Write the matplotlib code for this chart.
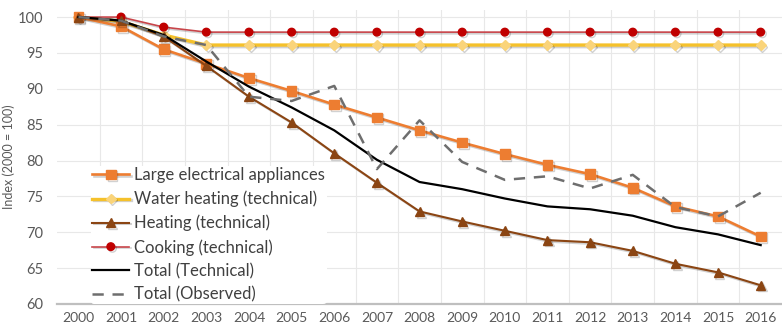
import matplotlib
matplotlib.use("Agg")
import matplotlib.pyplot as plt
import matplotlib.patheffects as pe

plt.rcParams["font.family"] = ["Lato", "DejaVu Sans"]

# Data (index, 2000 = 100)
years = list(range(2000, 2017))
large_appliances = [100, 98.7, 95.5, 93.5, 91.5, 89.7, 87.8, 86.0, 84.2, 82.5,
                    80.9, 79.4, 78.1, 76.2, 73.6, 72.2, 69.4]
water_heating = [100, 99.4, 97.5, 96.1, 96.1, 96.1, 96.1, 96.1, 96.1, 96.1,
                 96.1, 96.1, 96.1, 96.1, 96.1, 96.1, 96.1]
heating = [100, 99.5, 97.3, 93.2, 88.9, 85.3, 81.0, 76.9, 72.9, 71.5,
           70.2, 68.9, 68.6, 67.4, 65.6, 64.4, 62.6]
cooking = [100, 100, 98.6, 97.9, 97.9, 97.9, 97.9, 97.9, 97.9, 97.9,
           97.9, 97.9, 97.9, 97.9, 97.9, 97.9, 97.9]
total_technical = [100, 99.5, 97.5, 93.8, 90.3, 87.4, 84.2, 80.1, 77.0, 76.0,
                   74.7, 73.6, 73.2, 72.3, 70.7, 69.7, 68.2]
total_observed = [100, 99.5, 97.3, 96.1, 88.9, 88.3, 90.4, 78.8, 85.6, 79.8,
                  77.3, 77.8, 76.1, 78.0, 73.5, 72.2, 75.5]

grey_text = "#595959"
shadow = [pe.SimpleLineShadow(offset=(1.2, -1.2), alpha=0.18), pe.Normal()]

fig = plt.figure(figsize=(7.82, 3.30), dpi=100)
ax = fig.add_axes([0.073, 0.079, 0.927, 0.891])

ax.plot(years, large_appliances, color="#ED7D31", lw=1.9, marker="s", ms=7,
        label="Large electrical appliances", path_effects=shadow, zorder=4)
ax.plot(years, water_heating, color="#F5C12B", lw=2.4, marker="D", ms=5,
        mfc="#FAD47A", mec="#FAD47A", label="Water heating (technical)",
        path_effects=shadow, zorder=3)
ax.plot(years, heating, color="#8B4513", lw=1.5, marker="^", ms=6.5,
        label="Heating (technical)", path_effects=shadow, zorder=4)
ax.plot(years, cooking, color="#C8454A", lw=1.2, marker="o", ms=5.5,
        mfc="#C00000", mec="#C00000", label="Cooking (technical)",
        path_effects=shadow, zorder=3)
ax.plot(years, total_technical, color="black", lw=1.6,
        label="Total (Technical)", zorder=5)
ax.plot(years, total_observed, color="#6E6E6E", lw=1.8, ls=(0, (4.5, 3.5)),
        label="Total (Observed)", zorder=5)

ax.set_xlim(1999.5, 2016.5)
ax.set_ylim(60, 101)
ax.set_yticks(range(60, 101, 5))
ax.set_xticks(years)
ax.set_xticks([y + 0.5 for y in years[:-1]], minor=True)

ax.grid(axis="y", which="major", color="#E8E8E8", lw=0.8)
ax.grid(axis="x", which="minor", color="#E8E8E8", lw=0.8)
ax.set_axisbelow(True)

for side in ("top", "right", "left"):
    ax.spines[side].set_visible(False)
ax.spines["bottom"].set_color("#BFBFBF")
ax.spines["bottom"].set_linewidth(1.6)

ax.tick_params(axis="both", which="both", length=0, colors=grey_text,
               labelsize=10.5)
ax.tick_params(axis="x", pad=6, labelsize=10)
ax.tick_params(axis="y", pad=10)
ax.set_ylabel("Index (2000 = 100)", color=grey_text, fontsize=9)
ax.yaxis.set_label_coords(-0.058, 0.5)

leg = ax.legend(loc="lower left", bbox_to_anchor=(0.035, -0.03), frameon=True,
                fontsize=12, handlelength=2.2, handletextpad=0.3,
                labelspacing=0.45, borderpad=0.1)
leg.get_frame().set_facecolor("white")
leg.get_frame().set_edgecolor("none")
leg.get_frame().set_alpha(1)
leg.set_zorder(6)
for txt in leg.get_texts():
    txt.set_color("#404040")

fig.savefig("out.png", dpi=100)
